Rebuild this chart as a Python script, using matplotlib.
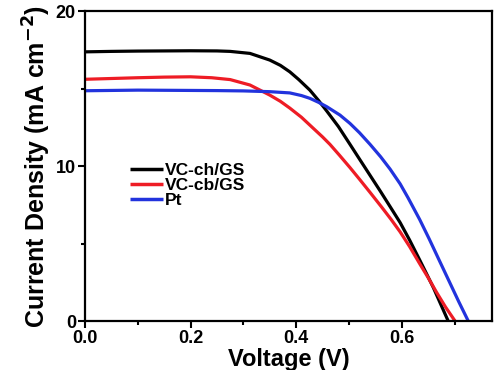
import matplotlib
matplotlib.use("Agg")
import matplotlib.pyplot as plt
from matplotlib.ticker import MultipleLocator

plt.rcParams['font.family'] = ['Liberation Sans', 'DejaVu Sans']
plt.rcParams['font.weight'] = 'bold'
plt.rcParams['mathtext.default'] = 'bf'

# VC-ch/GS
v_ch = [0.00, 0.05, 0.10, 0.15, 0.20, 0.25, 0.275, 0.3125, 0.35, 0.37, 0.388, 0.405, 0.426, 0.442,
        0.458, 0.48, 0.502, 0.52, 0.54, 0.56, 0.578, 0.597, 0.615, 0.634, 0.647, 0.66, 0.673, 0.688]
j_ch = [17.37, 17.40, 17.42, 17.43, 17.44, 17.43, 17.40, 17.27, 16.84, 16.50, 16.08, 15.58, 14.90, 14.25,
        13.55, 12.55, 11.40, 10.45, 9.40, 8.35, 7.38, 6.35, 5.22, 3.94, 3.05, 2.15, 1.15, 0.00]
# VC-cb/GS
v_cb = [0.00, 0.05, 0.10, 0.15, 0.20, 0.24, 0.275, 0.3125, 0.35, 0.37, 0.388, 0.41, 0.432, 0.45,
        0.464, 0.482, 0.502, 0.52, 0.54, 0.562, 0.58, 0.597, 0.615, 0.634, 0.65, 0.666, 0.683, 0.701]
j_cb = [15.60, 15.65, 15.70, 15.74, 15.76, 15.70, 15.58, 15.23, 14.58, 14.18, 13.74, 13.15, 12.45, 11.88,
        11.40, 10.70, 9.90, 9.15, 8.30, 7.35, 6.55, 5.75, 4.80, 3.70, 2.80, 1.85, 0.90, 0.00]
# Pt
v_pt = [0.00, 0.05, 0.10, 0.15, 0.20, 0.25, 0.30, 0.35, 0.388, 0.41, 0.426, 0.442, 0.458, 0.47,
        0.483, 0.502, 0.52, 0.54, 0.56, 0.578, 0.597, 0.612, 0.634, 0.652, 0.672, 0.69, 0.708, 0.726]
j_pt = [14.86, 14.88, 14.90, 14.89, 14.88, 14.87, 14.85, 14.80, 14.72, 14.55, 14.37, 14.12, 13.83, 13.57,
        13.29, 12.75, 12.15, 11.40, 10.60, 9.80, 8.85, 7.95, 6.55, 5.30, 3.85, 2.55, 1.25, 0.00]

labels = ['VC-ch/GS', 'VC-cb/GS', 'Pt']
colors = ['#000000', '#ee1c25', '#2233dd']

fig = plt.figure(figsize=(5, 3.7), dpi=100)
ax = fig.add_axes([0.17, 0.1324, 0.814, 0.8376])

for v, j, lab, c in zip([v_ch, v_cb, v_pt], [j_ch, j_cb, j_pt], labels, colors):
    ax.plot(v, j, color=c, lw=2.3, label=lab, solid_capstyle='butt')

ax.set_xlim(0, 0.771)
ax.set_ylim(0, 20)
ax.xaxis.set_major_locator(MultipleLocator(0.2))
ax.xaxis.set_minor_locator(MultipleLocator(0.1))
ax.yaxis.set_major_locator(MultipleLocator(10))
ax.yaxis.set_minor_locator(MultipleLocator(5))
ax.set_xticks([0.0, 0.2, 0.4, 0.6])
ax.set_xticklabels(['0.0', '0.2', '0.4', '0.6'])
ax.tick_params(axis='x', which='major', direction='out', length=5, width=1.5, labelsize=13, pad=1.5)
ax.tick_params(axis='y', which='major', direction='out', length=5, width=1.5, labelsize=13, pad=1.5)
ax.tick_params(which='minor', direction='out', length=3, width=1.5)
for s in ax.spines.values():
    s.set_linewidth(1.6)

ax.set_xlabel('Voltage (V)', fontsize=17, fontweight='bold', labelpad=0.5)
ax.set_ylabel('Current Density (mA cm$^{-2}$)', fontsize=18, fontweight='bold', labelpad=2)

leg = ax.legend(loc='upper left', bbox_to_anchor=(0.11, 0.51), frameon=False, fontsize=12.5,
                handlelength=1.9, handletextpad=0.1, labelspacing=0.0, borderaxespad=0,
                borderpad=0)
for line in leg.get_lines():
    line.set_linewidth(2.5)

fig.savefig('out.png', dpi=100)
